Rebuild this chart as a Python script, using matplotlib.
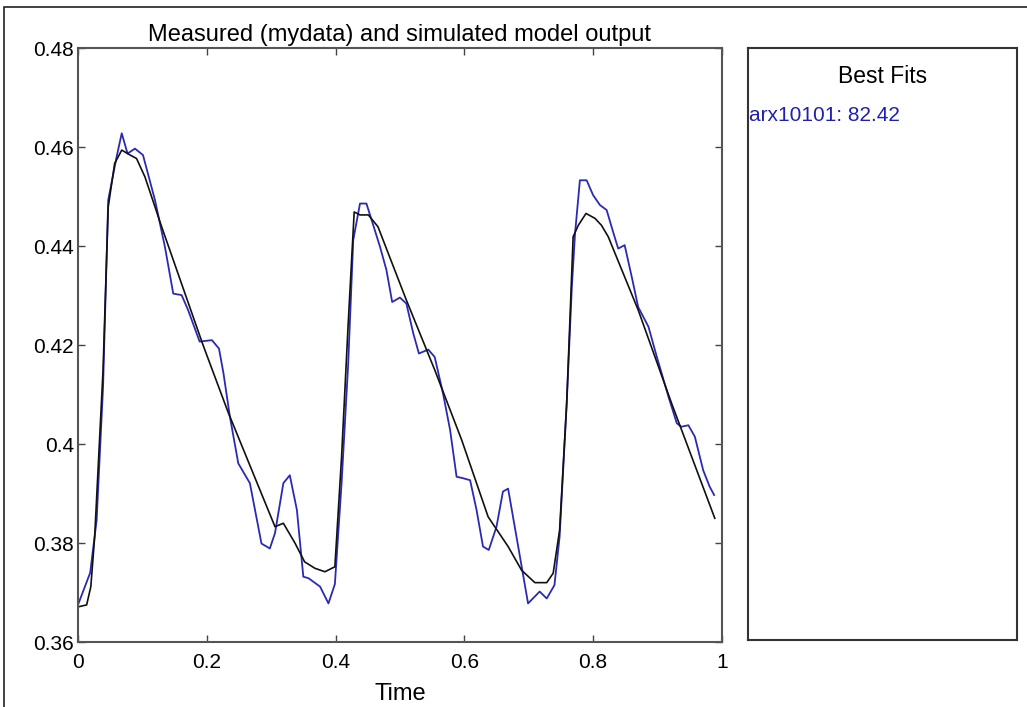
import matplotlib.pyplot as plt
from matplotlib.ticker import FuncFormatter
from matplotlib.patches import Rectangle

plt.rcParams['font.family'] = ['Liberation Sans', 'DejaVu Sans']

# measured output (mydata)
t_meas = [0.0, 0.019, 0.029, 0.039, 0.047, 0.060, 0.068, 0.077, 0.0885, 0.101,
          0.1196, 0.135, 0.148, 0.161, 0.171, 0.189, 0.208, 0.219, 0.226, 0.236,
          0.249, 0.267, 0.285, 0.298, 0.306, 0.319, 0.329, 0.340, 0.350, 0.358,
          0.376, 0.389, 0.399, 0.4094, 0.4197, 0.4275, 0.438, 0.448, 0.456, 0.469,
          0.479, 0.488, 0.500, 0.510, 0.5207, 0.5295, 0.544, 0.554, 0.567, 0.578,
          0.588, 0.598, 0.609, 0.619, 0.629, 0.638, 0.650, 0.660, 0.668, 0.681,
          0.699, 0.717, 0.728, 0.740, 0.748, 0.759, 0.767, 0.772, 0.7795, 0.790,
          0.800, 0.8106, 0.821, 0.831, 0.839, 0.849, 0.860, 0.870, 0.886, 0.899,
          0.917, 0.930, 0.937, 0.948, 0.958, 0.971, 0.981, 0.988]
y_meas = [0.3675, 0.374, 0.3846, 0.4116, 0.4493, 0.458, 0.4628, 0.4587, 0.4597, 0.4584,
          0.4493, 0.4399, 0.4304, 0.4301, 0.4271, 0.4207, 0.4210, 0.4193, 0.4143, 0.4055,
          0.3961, 0.3921, 0.3799, 0.3789, 0.3820, 0.3921, 0.3937, 0.3867, 0.3732, 0.3729,
          0.3712, 0.3678, 0.3717, 0.3921, 0.4163, 0.4412, 0.4486, 0.4486, 0.4453, 0.4399,
          0.4352, 0.4287, 0.4296, 0.4284, 0.4224, 0.4183, 0.4191, 0.4176, 0.4102, 0.4028,
          0.3934, 0.3931, 0.3927, 0.3867, 0.3793, 0.3786, 0.3833, 0.3904, 0.3910, 0.3813,
          0.3678, 0.3702, 0.3688, 0.3715, 0.3813, 0.4082, 0.4318, 0.4426, 0.4533, 0.4533,
          0.4503, 0.4483, 0.4473, 0.4429, 0.4395, 0.4402, 0.4338, 0.4277, 0.4237, 0.4176,
          0.4096, 0.4042, 0.4035, 0.4038, 0.4015, 0.3947, 0.3914, 0.3897]

# simulated model output (arx10101)
t_sim = [0.0, 0.0135, 0.02, 0.026, 0.039, 0.047, 0.057, 0.068, 0.081, 0.091,
         0.104, 0.130, 0.194, 0.233, 0.306, 0.319, 0.337, 0.352, 0.368, 0.3835,
         0.399, 0.4094, 0.4197, 0.429, 0.438, 0.451, 0.466, 0.482, 0.510, 0.554,
         0.596, 0.637, 0.668, 0.689, 0.7096, 0.728, 0.738, 0.748, 0.759, 0.769,
         0.777, 0.789, 0.803, 0.813, 0.8235, 0.870, 0.922, 0.989]
y_sim = [0.3671, 0.3675, 0.3712, 0.3813, 0.4150, 0.4479, 0.4567, 0.4594, 0.4584, 0.4577,
         0.4540, 0.4439, 0.4201, 0.4065, 0.3833, 0.3840, 0.3800, 0.3762, 0.3749, 0.3742,
         0.3752, 0.3974, 0.4244, 0.4469, 0.4463, 0.4463, 0.4439, 0.4385, 0.4291, 0.4150,
         0.4008, 0.3853, 0.3793, 0.3745, 0.3720, 0.3720, 0.3739, 0.3826, 0.4082, 0.4419,
         0.4442, 0.4466, 0.4456, 0.4442, 0.4419, 0.4271, 0.4082, 0.3850]

x_ticks = [0, 0.2, 0.4, 0.6, 0.8, 1]
y_ticks = [0.36, 0.38, 0.40, 0.42, 0.44, 0.46, 0.48]
fit_label = 'arx10101: 82.42'

fig = plt.figure(figsize=(10.27, 7.07), dpi=100)
fig.patches.append(Rectangle((0.004, -0.1), 1.2, 1.09, transform=fig.transFigure,
                             fill=False, edgecolor='#222222', linewidth=1.2))

ax = fig.add_axes([0.0759, 0.0919, 0.627, 0.840])
ax.plot(t_meas, y_meas, color='#2a2ab4', linewidth=1.3)
ax.plot(t_sim, y_sim, color='#111111', linewidth=1.2)
ax.set_xlim(0, 1)
ax.set_ylim(0.36, 0.48)
ax.set_xticks(x_ticks)
ax.set_yticks(y_ticks)
fmt = FuncFormatter(lambda v, p: '%g' % round(v, 4))
ax.xaxis.set_major_formatter(fmt)
ax.yaxis.set_major_formatter(fmt)
ax.tick_params(direction='in', top=True, right=True, length=5, width=1,
               labelsize=15, color='#444444')
ax.tick_params(axis='x', pad=8)
ax.tick_params(axis='y', pad=3)
for s in ax.spines.values():
    s.set_color('#555555')
    s.set_linewidth(1.5)
ax.set_title('Measured (mydata) and simulated model output', fontsize=17, pad=5)
ax.set_xlabel('Time', fontsize=17, labelpad=8)

# side panel with best fits
ax2 = fig.add_axes([0.728, 0.0948, 0.262, 0.837])
ax2.set_xticks([])
ax2.set_yticks([])
for s in ax2.spines.values():
    s.set_color('#333333')
    s.set_linewidth(1.5)
ax2.text(0.5, 0.952, 'Best Fits', ha='center', va='center', fontsize=16.5,
         transform=ax2.transAxes)
ax2.text(0.005, 0.886, fit_label, ha='left', va='center', fontsize=15,
         color='#2020b0', transform=ax2.transAxes)

fig.savefig('out.png', dpi=100)
